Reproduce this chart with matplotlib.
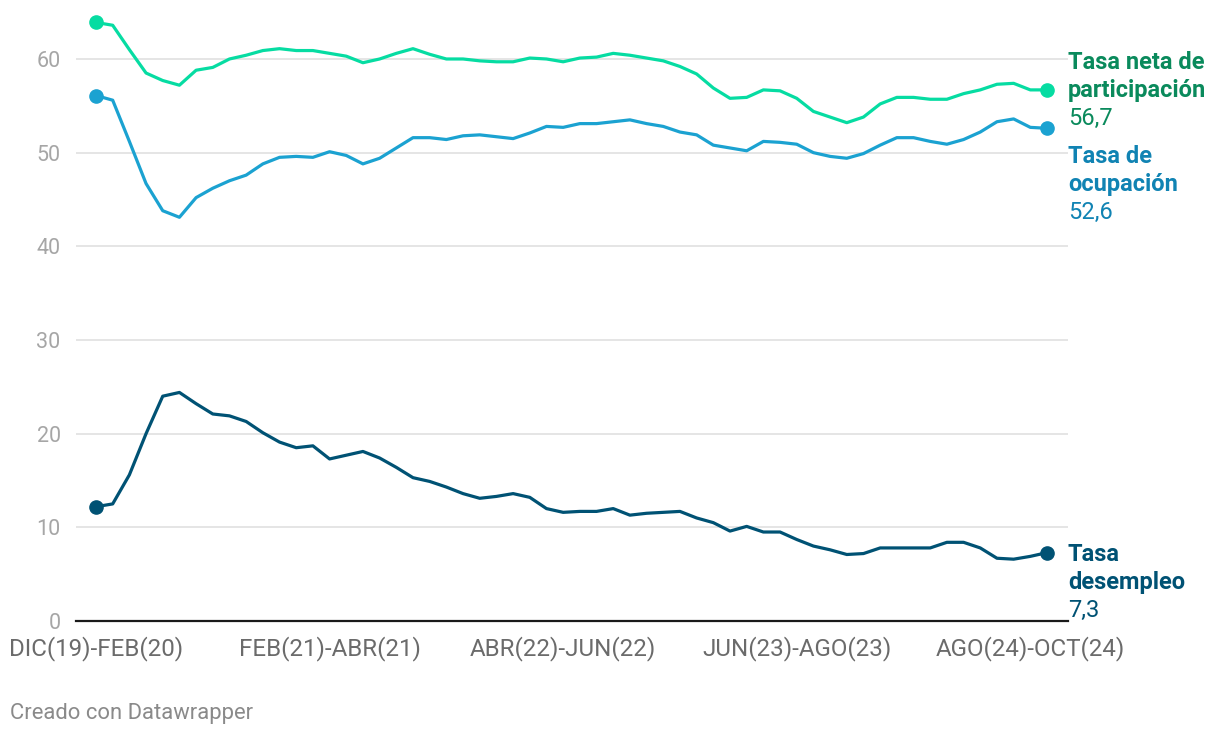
import matplotlib
matplotlib.use("Agg")
import matplotlib.pyplot as plt
import matplotlib.transforms as mtransforms

plt.rcParams['font.family'] = ['Roboto', 'DejaVu Sans']

tick_labels = ["DIC(19)-FEB(20)", "FEB(21)-ABR(21)", "ABR(22)-JUN(22)",
               "JUN(23)-AGO(23)", "AGO(24)-OCT(24)"]
tick_index = [0, 14, 28, 42, 56]

participacion = [63.9, 63.6, 61.0, 58.5, 57.7, 57.2, 58.8, 59.1, 60.0, 60.4,
                 60.9, 61.1, 60.9, 60.9, 60.6, 60.3, 59.6, 60.0, 60.6, 61.1,
                 60.5, 60.0, 60.0, 59.8, 59.7, 59.7, 60.1, 60.0, 59.7, 60.1,
                 60.2, 60.6, 60.4, 60.1, 59.8, 59.2, 58.4, 56.9, 55.8, 55.9,
                 56.7, 56.6, 55.8, 54.4, 53.8, 53.2, 53.8, 55.2, 55.9, 55.9,
                 55.7, 55.7, 56.3, 56.7, 57.3, 57.4, 56.7, 56.7]
ocupacion = [56.1, 55.6, 51.2, 46.7, 43.8, 43.1, 45.2, 46.2, 47.0, 47.6,
             48.8, 49.5, 49.6, 49.5, 50.1, 49.7, 48.8, 49.4, 50.5, 51.6,
             51.6, 51.4, 51.8, 51.9, 51.7, 51.5, 52.1, 52.8, 52.7, 53.1,
             53.1, 53.3, 53.5, 53.1, 52.8, 52.2, 51.9, 50.8, 50.5, 50.2,
             51.2, 51.1, 50.9, 50.0, 49.6, 49.4, 49.9, 50.8, 51.6, 51.6,
             51.2, 50.9, 51.4, 52.2, 53.3, 53.6, 52.7, 52.6]
desempleo = [12.2, 12.5, 15.6, 20.0, 24.0, 24.4, 23.2, 22.1, 21.9, 21.3,
             20.1, 19.1, 18.5, 18.7, 17.3, 17.7, 18.1, 17.4, 16.4, 15.3,
             14.9, 14.3, 13.6, 13.1, 13.3, 13.6, 13.2, 12.0, 11.6, 11.7,
             11.7, 12.0, 11.3, 11.5, 11.6, 11.7, 11.0, 10.5, 9.6, 10.1,
             9.5, 9.5, 8.7, 8.0, 7.6, 7.1, 7.2, 7.8, 7.8, 7.8,
             7.8, 8.4, 8.4, 7.8, 6.7, 6.6, 6.9, 7.3]

series_names = [["Tasa neta de", "participación"], ["Tasa de", "ocupación"],
                ["Tasa", "desempleo"]]
line_colors = ["#06dca2", "#1ba2d1", "#005274"]
label_colors = ["#0a8a5c", "#1083b3", "#005274"]
label_y = [59.6, 49.56, 7.07]  # y of first label line (data units)

fig = plt.figure(figsize=(12.2, 7.38), dpi=100)
ax = fig.add_axes([76/1220, 1 - 621/738, 992/1220, 611/738])

n = len(participacion)
x = list(range(n))
px_per_unit = 951 / (n - 1)
ax.set_xlim(-20 / px_per_unit, (n - 1) + 21 / px_per_unit)
ax.set_ylim(0, 611 / 9.367)

for vals, col in zip([participacion, ocupacion, desempleo], line_colors):
    ax.plot(x, vals, color=col, lw=2.3, solid_joinstyle='round',
            solid_capstyle='round', zorder=3)
    ax.plot([x[0], x[-1]], [vals[0], vals[-1]], 'o', color=col, ms=9.5,
            zorder=4, clip_on=False)

for v in [10, 20, 30, 40, 50, 60]:
    ax.axhline(v, color="#e3e3e3", lw=1.3, zorder=1)
ax.axhline(0, color="#1a1a1a", lw=1.6, zorder=2, clip_on=False)

for s in ax.spines.values():
    s.set_visible(False)

ax.set_yticks([0, 10, 20, 30, 40, 50, 60])
ax.set_yticklabels(["0", "10", "20", "30", "40", "50", "60"])
ax.tick_params(axis='y', length=0, pad=11, labelsize=15.5, labelcolor="#a6a6a6")
ax.set_xticks(tick_index)
ax.set_xticklabels(tick_labels)
ax.tick_params(axis='x', length=0, pad=11, labelsize=17.4, labelcolor="#6b6b6b")

trans_base = mtransforms.blended_transform_factory(ax.transAxes, ax.transData)
finals = [participacion[-1], ocupacion[-1], desempleo[-1]]
for names, val, col, y0 in zip(series_names, finals, label_colors, label_y):
    lines = names + [f"{val:.1f}".replace(".", ",")]
    for k, t in enumerate(lines):
        tr = mtransforms.offset_copy(trans_base, fig=fig, x=0,
                                     y=-28 * k * 72 / 100, units='points')
        ax.text(1.0, y0, t, transform=tr, ha='left', va='center',
                fontsize=17, color=col,
                fontweight='bold' if k < len(lines) - 1 else 'normal',
                clip_on=False)

fig.text(10/1220, 1 - 714/738, "Creado con Datawrapper", ha='left', va='center',
         fontsize=15.8, color="#8a8a8a")

fig.savefig("out.png", dpi=100)
